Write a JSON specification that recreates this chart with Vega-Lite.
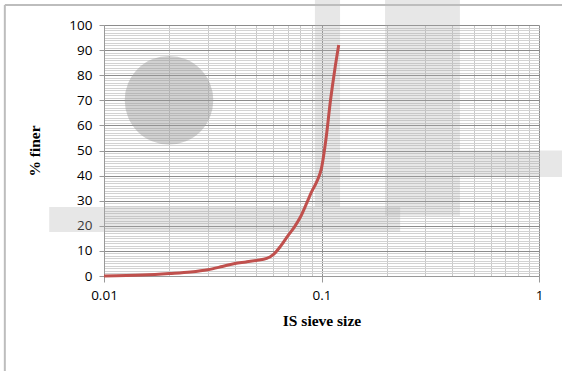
{
  "$schema": "https://vega.github.io/schema/vega-lite/v6.json",
  "width": 435,
  "height": 251,
  "autosize": "none",
  "padding": {"left": 104, "top": 25, "right": 23, "bottom": 95},
  "background": "white",
  "config": {"view": {"stroke": null}},
  "datasets": {
    "curve": [
      {"size": 0.01, "finer": 0},
      {"size": 0.015, "finer": 0.4},
      {"size": 0.02, "finer": 1.0},
      {"size": 0.025, "finer": 1.6},
      {"size": 0.03, "finer": 2.5},
      {"size": 0.035, "finer": 3.8},
      {"size": 0.04, "finer": 5.0},
      {"size": 0.045, "finer": 5.6},
      {"size": 0.05, "finer": 6.2},
      {"size": 0.056, "finer": 7.0},
      {"size": 0.06, "finer": 8.5},
      {"size": 0.065, "finer": 12},
      {"size": 0.07, "finer": 16},
      {"size": 0.075, "finer": 19.5},
      {"size": 0.08, "finer": 23.5},
      {"size": 0.085, "finer": 28.5},
      {"size": 0.09, "finer": 33.5},
      {"size": 0.095, "finer": 37.5},
      {"size": 0.1, "finer": 43},
      {"size": 0.105, "finer": 55},
      {"size": 0.11, "finer": 70},
      {"size": 0.115, "finer": 82},
      {"size": 0.12, "finer": 92}
    ],
    "blob": [{"size": 0.0199, "finer": 70}],
    "bands": [
      {"size": 0.0933, "size2": 0.1217, "finer": 27.5, "finer2": 110},
      {"size": 0.196, "size2": 0.433, "finer": 24, "finer2": 110},
      {"size": 0.0056, "size2": 0.23, "finer": 17.5, "finer2": 27.5},
      {"size": 0.433, "size2": 1.28, "finer": 39.4, "finer2": 50}
    ],
    "frameV": [{"size": 0.0035, "finer": -38, "finer2": 108}],
    "frameH": [{"size": 0.0035, "size2": 1.28, "finer": 108}]
  },
  "encoding": {
    "x": {
      "field": "size", "type": "quantitative",
      "scale": {"type": "log", "domain": [0.01, 1], "nice": false},
      "axis": {
        "title": "IS sieve size",
        "titleFont": "Liberation Serif", "titleFontSize": 15.5, "titleFontWeight": "bold", "titleColor": "#000", "titlePadding": 12,
        "values": [0.01,0.02,0.03,0.04,0.05,0.06,0.07,0.08,0.09,0.1,0.2,0.3,0.4,0.5,0.6,0.7,0.8,0.9,1],
        "format": "~g",
        "labelExpr": "indexof([0.01,0.1,1], datum.value) >= 0 ? datum.label : ''",
        "labelFont": "Open Sans", "labelFontSize": 13.5, "labelColor": "#000", "labelPadding": 6,
        "labelFlush": false, "labelOverlap": false,
        "tickSize": 6,
        "tickColor": "#999",
        "tickOpacity": {"condition": {"test": "indexof([0.01,0.1,1], datum.value) >= 0", "value": 1}, "value": 0},
        "domainColor": "#999",
        "grid": true,
        "gridColor": {"condition": {"test": "indexof([0.01,0.1,1], datum.value) >= 0", "value": "#8c8c8c"}, "value": "#c8c8c8"},
        "gridWidth": 1
      }
    },
    "y": {
      "field": "finer", "type": "quantitative",
      "scale": {"domain": [0, 100], "nice": false},
      "axis": {
        "title": "% finer",
        "titleFont": "Liberation Serif", "titleFontSize": 15.5, "titleFontWeight": "bold", "titleColor": "#000", "titlePadding": 26,
        "values": [0,1,2,3,4,5,6,7,8,9,10,11,12,13,14,15,16,17,18,19,20,21,22,23,24,25,26,27,28,29,30,31,32,33,34,35,36,37,38,39,40,41,42,43,44,45,46,47,48,49,50,51,52,53,54,55,56,57,58,59,60,61,62,63,64,65,66,67,68,69,70,71,72,73,74,75,76,77,78,79,80,81,82,83,84,85,86,87,88,89,90,91,92,93,94,95,96,97,98,99,100],
        "labelExpr": "datum.value % 10 == 0 ? datum.label : ''",
        "labelFont": "Open Sans", "labelFontSize": 13.5, "labelColor": "#000", "labelPadding": 7,
        "labelOverlap": false, "labelFlush": false,
        "tickSize": 5,
        "tickColor": "#999",
        "tickOpacity": {"condition": {"test": "datum.value % 10 == 0", "value": 1}, "value": 0},
        "domainColor": "#999",
        "grid": true,
        "gridColor": {"condition": {"test": "datum.value % 10 == 0", "value": "#8c8c8c"}, "value": "#d2d2d2"},
        "gridWidth": 1
      }
    }
  },
  "layer": [
    {
      "data": {"name": "bands"},
      "mark": {"type": "rect", "color": "#b0b0b0", "opacity": 0.3},
      "encoding": {
        "x2": {"field": "size2"},
        "y2": {"field": "finer2"}
      }
    },
    {
      "data": {"name": "blob"},
      "mark": {"type": "point", "filled": true, "shape": "circle", "color": "#999999", "opacity": 0.45, "size": 7850}
    },
    {
      "data": {"name": "frameV"},
      "mark": {"type": "rule", "color": "#bdbdbd", "strokeWidth": 2},
      "encoding": {
        "y2": {"field": "finer2"}
      }
    },
    {
      "data": {"name": "frameH"},
      "mark": {"type": "rule", "color": "#bdbdbd", "strokeWidth": 2},
      "encoding": {
        "x2": {"field": "size2"}
      }
    },
    {
      "data": {"name": "curve"},
      "mark": {"type": "line", "color": "#c0504d", "strokeWidth": 3, "interpolate": "monotone"}
    }
  ]
}
